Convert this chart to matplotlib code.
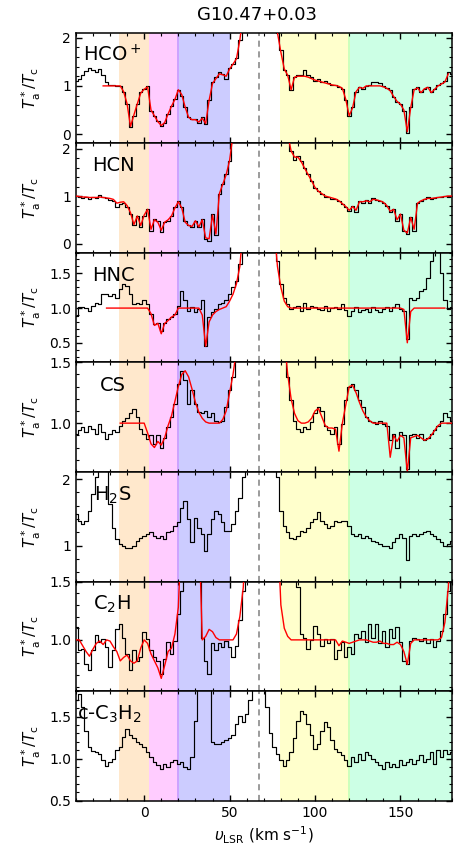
import numpy as np
import matplotlib
matplotlib.use("Agg")
import matplotlib.pyplot as plt
from matplotlib.ticker import MultipleLocator

# velocity channels (km/s) shared by all spectra
velocity = np.arange(-40, 181, 2)

# HCO+ spectrum and fit
hcop_obs = [
    1.11, 1.15, 1.22, 1.31, 1.36, 1.32, 1.29, 1.34, 1.22, 1.08,
    1.01, 1.01, 0.99, 0.99, 0.87, 0.63, 0.14, 0.38, 0.63, 0.87,
    0.94, 0.99, 0.49, 0.38, 0.28, 0.17, 0.24, 0.42, 0.59, 0.73,
    0.92, 0.80, 0.56, 0.35, 0.31, 0.31, 0.24, 0.35, 0.21, 0.70,
    1.08, 1.18, 1.29, 1.25, 1.15, 1.36, 1.46, 1.57, 1.95, 2.37,
    3.0, 3.0, 3.0, 3.0, 3.0, 3.0, 3.0, 3.0, 3.0, 2.09,
    1.74, 1.32, 1.22, 0.91, 1.18, 1.22, 1.22, 1.32, 1.22, 1.18,
    1.11, 1.15, 1.08, 1.11, 1.05, 1.01, 1.01, 0.98, 0.94, 0.70,
    0.38, 0.56, 0.87, 0.98, 0.94, 0.99, 1.01, 1.08, 1.08, 1.05,
    0.99, 0.96, 0.91, 0.77, 0.66, 0.63, 0.49, 0.03, 0.56, 0.94,
    0.98, 0.87, 0.94, 0.98, 0.87, 0.94, 1.01, 1.05, 1.11, 1.29,
    1.25,
]
hcop_fit_start = -24
hcop_fit = [
    1.00, 1.00, 1.00, 1.00, 1.00, 1.00, 0.88, 0.63, 0.16, 0.40,
    0.63, 0.85, 0.93, 0.98, 0.50, 0.38, 0.26, 0.18, 0.24, 0.42,
    0.58, 0.72, 0.92, 0.82, 0.56, 0.35, 0.30, 0.30, 0.25, 0.33,
    0.22, 0.70, 1.05, 1.15, 1.25, 1.23, 1.20, 1.35, 1.45, 1.56,
    1.95, 2.5, 3.0, 3.0, 3.0, 3.0, 3.0, 3.0, 3.0, 3.0,
    3.0, 2.10, 1.70, 1.35, 1.22, 0.92, 1.18, 1.20, 1.20, 1.20,
    1.18, 1.15, 1.12, 1.10, 1.08, 1.06, 1.04, 1.02, 1.01, 0.99,
    0.95, 0.72, 0.38, 0.55, 0.88, 0.97, 0.95, 1.00, 1.00, 1.00,
    1.00, 1.00, 0.98, 0.95, 0.90, 0.78, 0.68, 0.62, 0.50, 0.05,
    0.55, 0.92, 0.96, 0.86, 0.94, 0.97, 0.86, 0.93, 1.00, 1.04,
    1.08, 1.25,
]

# HCN
hcn_obs = [
    1.00, 0.98, 0.95, 0.97, 0.93, 0.98, 0.95, 1.02, 0.97, 0.95,
    0.91, 0.90, 0.76, 0.83, 0.86, 0.76, 0.62, 0.38, 0.59, 0.34,
    0.59, 0.72, 0.27, 0.52, 0.48, 0.24, 0.45, 0.48, 0.59, 0.76,
    0.90, 0.76, 0.48, 0.38, 0.34, 0.48, 0.34, 0.52, 0.10, 0.06,
    0.62, 0.17, 1.04, 1.25, 1.46, 1.74, 2.3, 3.0, 3.0, 3.0,
    3.0, 3.0, 3.0, 3.0, 3.0, 3.0, 3.0, 3.0, 3.0, 3.0,
    3.0, 3.0, 2.3, 1.94, 1.77, 1.84, 1.74, 1.60, 1.46, 1.32,
    1.18, 1.11, 1.04, 0.98, 0.97, 0.93, 0.93, 0.89, 0.83, 0.76,
    0.69, 0.79, 0.66, 0.90, 0.86, 0.91, 0.86, 0.95, 0.91, 0.90,
    0.86, 0.79, 0.66, 0.72, 0.48, 0.62, 0.27, 0.20, 0.55, 0.27,
    0.86, 0.90, 0.93, 0.97, 0.93, 0.95, 0.97, 0.98, 1.00, 0.98,
    1.00,
]
hcn_fit_start = -40
hcn_fit = [
    1.00, 0.99, 0.98, 0.98, 0.97, 0.97, 0.97, 0.98, 0.97, 0.96,
    0.95, 0.93, 0.85, 0.87, 0.88, 0.80, 0.65, 0.40, 0.58, 0.38,
    0.60, 0.72, 0.30, 0.50, 0.45, 0.28, 0.45, 0.50, 0.58, 0.75,
    0.88, 0.75, 0.45, 0.38, 0.36, 0.48, 0.35, 0.50, 0.12, 0.10,
    0.60, 0.20, 1.05, 1.25, 1.45, 1.75, 2.3, 3.0, 3.0, 3.0,
    3.0, 3.0, 3.0, 3.0, 3.0, 3.0, 3.0, 3.0, 3.0, 3.0,
    3.0, 3.0, 2.3, 1.95, 1.82, 1.82, 1.72, 1.58, 1.45, 1.32,
    1.18, 1.10, 1.05, 1.00, 0.98, 0.96, 0.94, 0.90, 0.84, 0.78,
    0.70, 0.78, 0.70, 0.88, 0.88, 0.90, 0.88, 0.93, 0.92, 0.90,
    0.87, 0.80, 0.68, 0.72, 0.50, 0.62, 0.28, 0.22, 0.55, 0.30,
    0.85, 0.90, 0.93, 0.95, 0.95, 0.96, 0.97, 0.98, 0.99, 1.00,
    1.00,
]

# HNC
hnc_obs = [
    0.89, 1.01, 1.02, 1.00, 0.96, 1.03, 1.08, 1.06, 1.21, 1.20,
    1.18, 1.20, 1.15, 1.27, 1.35, 1.32, 1.20, 1.06, 1.08, 1.06,
    1.11, 1.06, 0.91, 0.77, 0.79, 0.67, 0.79, 0.84, 0.87, 0.91,
    1.03, 1.25, 1.11, 0.96, 1.01, 0.94, 0.99, 1.11, 0.46, 0.87,
    0.94, 0.99, 1.06, 1.07, 1.11, 1.20, 1.30, 1.39, 1.63, 2.2,
    3.0, 3.0, 3.0, 3.0, 3.0, 3.0, 3.0, 3.0, 3.0, 1.68,
    1.35, 1.15, 1.06, 0.99, 1.01, 1.03, 0.96, 1.08, 0.99, 1.03,
    1.01, 0.99, 0.97, 1.03, 0.96, 1.00, 1.01, 0.99, 1.06, 0.97,
    0.89, 0.96, 1.01, 0.94, 0.97, 0.99, 0.95, 1.01, 0.97, 0.94,
    0.99, 1.01, 0.96, 1.01, 1.06, 0.99, 0.96, 0.55, 1.15, 1.11,
    1.15, 1.25, 1.27, 1.44, 1.68, 1.95, 1.85, 1.50, 1.11, 0.99,
    1.01,
]
hnc_fit_start = -22
hnc_fit = [
    1.00, 1.00, 1.00, 1.00, 1.00, 1.00, 1.00, 1.00, 1.00, 1.00,
    1.00, 1.00, 1.00, 0.92, 0.75, 0.78, 0.63, 0.78, 0.82, 0.87,
    0.90, 1.00, 1.00, 1.00, 1.00, 1.00, 1.00, 1.00, 0.90, 0.45,
    0.80, 0.90, 0.95, 0.98, 1.00, 1.02, 1.10, 1.20, 1.35, 1.60,
    2.2, 3.0, 3.0, 3.0, 3.0, 3.0, 3.0, 3.0, 3.0, 2.2,
    1.60, 1.30, 1.10, 1.02, 1.00, 1.00, 1.00, 1.00, 1.00, 1.00,
    1.00, 1.00, 1.00, 1.00, 1.00, 1.00, 1.00, 1.00, 1.00, 1.00,
    1.00, 1.00, 1.00, 1.00, 1.00, 1.00, 1.00, 1.00, 1.00, 1.00,
    1.00, 1.00, 1.00, 1.00, 1.00, 1.00, 1.00, 0.98, 0.50, 0.95,
    1.00, 1.00, 1.00, 1.00, 1.00, 1.00, 1.00, 1.00, 1.00, 1.00,
]

# CS
cs_obs = [
    0.91, 0.94, 0.97, 0.93, 0.98, 0.95, 0.91, 0.99, 0.93, 0.87,
    0.91, 0.94, 0.93, 0.98, 1.02, 1.04, 1.08, 1.12, 1.05, 0.95,
    0.91, 0.87, 0.90, 0.83, 0.90, 0.80, 0.88, 0.97, 1.05, 1.16,
    1.32, 1.43, 1.35, 1.16, 1.27, 1.16, 1.09, 1.08, 1.10, 1.05,
    1.08, 1.02, 1.01, 1.02, 1.13, 1.27, 1.38, 1.60, 2.0, 2.0,
    2.0, 2.0, 2.0, 2.0, 2.0, 2.0, 2.0, 2.0, 2.0, 2.0,
    2.0, 1.70, 1.38, 1.19, 1.02, 0.95, 0.93, 0.97, 0.95, 1.01,
    1.08, 1.13, 1.10, 0.98, 0.94, 0.91, 0.97, 0.83, 0.99, 1.19,
    1.30, 1.32, 1.27, 1.19, 1.13, 1.05, 1.02, 1.01, 0.99, 1.02,
    0.99, 0.98, 0.86, 0.91, 0.80, 0.93, 0.90, 0.62, 0.90, 0.91,
    0.88, 0.91, 0.86, 0.88, 0.91, 0.94, 0.98, 1.02, 1.08, 1.05,
    1.02,
]
cs_fit_start = -14
cs_fit = [
    1.00, 1.00, 1.00, 1.00, 1.00, 1.00, 1.00, 1.00, 0.92, 0.83,
    0.80, 0.85, 0.82, 0.88, 0.98, 1.06, 1.18, 1.30, 1.40, 1.43,
    1.38, 1.28, 1.17, 1.09, 1.04, 1.01, 1.00, 1.00, 1.00, 1.00,
    1.03, 1.10, 1.25, 1.40, 1.60, 2.0, 2.0, 2.0, 2.0, 2.0,
    2.0, 2.0, 2.0, 2.0, 2.0, 2.0, 2.0, 2.0, 1.70, 1.40,
    1.20, 1.08, 1.02, 1.00, 1.00, 1.01, 1.04, 1.10, 1.12, 1.05,
    0.98, 0.96, 0.96, 0.95, 0.77, 1.00, 1.15, 1.30, 1.31, 1.25,
    1.17, 1.10, 1.05, 1.02, 1.00, 1.00, 1.00, 1.00, 1.00, 0.72,
    0.90, 0.85, 0.90, 0.88, 0.60, 0.88, 0.89, 0.90, 0.88, 0.86,
    0.87, 0.90, 0.94, 0.98, 1.00, 1.00, 1.00, 1.00,
]

# H2S (no fit)
h2s_obs = [
    1.47, 1.37, 1.32, 1.37, 1.52, 1.77, 2.03, 2.5, 2.5, 2.13,
    1.62, 1.27, 1.10, 1.02, 1.00, 0.96, 0.96, 1.00, 1.07, 1.12,
    1.15, 1.18, 1.21, 1.15, 1.12, 1.15, 1.10, 1.20, 1.22, 1.30,
    1.35, 1.57, 1.67, 1.40, 1.05, 1.42, 1.27, 1.17, 0.92, 1.17,
    1.40, 1.52, 1.47, 1.35, 1.22, 1.22, 1.32, 1.52, 1.72, 2.03,
    2.5, 2.5, 2.5, 2.5, 2.5, 2.5, 2.5, 2.5, 2.5, 2.03,
    1.52, 1.30, 1.20, 1.12, 1.10, 1.15, 1.22, 1.20, 1.27, 1.35,
    1.40, 1.50, 1.37, 1.32, 1.27, 1.30, 1.37, 1.35, 1.37, 1.37,
    1.30, 1.17, 1.15, 1.17, 1.12, 1.15, 1.12, 1.07, 1.05, 1.02,
    1.00, 1.00, 0.97, 1.05, 1.12, 1.17, 1.12, 0.79, 1.15, 1.17,
    1.15, 1.18, 1.20, 1.22, 1.17, 1.15, 1.10, 1.05, 1.00, 1.02,
    1.07,
]

# C2H
c2h_obs = [
    1.11, 0.91, 0.92, 0.79, 0.74, 0.91, 1.04, 0.98, 1.01, 0.94,
    0.77, 0.91, 1.09, 1.14, 1.02, 0.88, 0.74, 0.91, 0.82, 0.85,
    1.07, 1.01, 0.91, 0.85, 0.82, 0.71, 0.84, 0.98, 0.88, 0.99,
    1.22, 1.42, 2.0, 2.0, 2.0, 2.0, 1.6, 1.02, 0.82, 0.71,
    0.97, 0.91, 0.97, 0.94, 0.99, 0.94, 0.85, 0.95, 1.17, 1.42,
    2.0, 2.0, 2.0, 2.0, 2.0, 2.0, 2.0, 2.0, 2.0, 2.0,
    2.0, 2.0, 2.0, 2.0, 2.0, 1.45, 1.05, 1.02, 0.92, 1.00,
    1.12, 1.05, 0.95, 1.01, 0.97, 1.01, 0.84, 0.91, 0.98, 0.85,
    0.94, 0.88, 1.05, 1.02, 1.08, 0.98, 1.14, 1.02, 1.14, 0.97,
    1.08, 0.94, 1.09, 1.02, 1.11, 0.98, 0.82, 0.79, 0.99, 1.02,
    1.01, 0.99, 1.02, 0.97, 1.01, 0.94, 0.99, 1.08, 1.22, 1.42,
    2.0,
]
c2h_fit_start = -40
c2h_fit = [
    1.00, 1.00, 0.95, 0.90, 0.86, 0.92, 0.97, 0.99, 0.96, 1.00,
    0.99, 0.94, 0.90, 0.82, 0.85, 0.87, 0.82, 0.80, 0.82, 0.93,
    1.00, 0.97, 0.88, 0.82, 0.76, 0.67, 0.78, 0.90, 0.93, 1.05,
    1.28, 2.0, 2.0, 2.0, 2.0, 2.0, 2.0, 1.00, 1.03, 1.09,
    1.07, 1.02, 1.00, 1.00, 1.00, 1.00, 1.00, 1.05, 1.20, 1.45,
    2.0, 2.0, 2.0, 2.0, 2.0, 2.0, 2.0, 2.0, 2.0, 2.0,
    1.30, 1.10, 1.03, 1.00, 1.00, 1.00, 1.00, 1.00, 1.00, 1.00,
    1.00, 1.00, 1.00, 1.00, 1.00, 1.00, 1.00, 0.95, 0.99, 0.98,
    0.97, 0.98, 0.99, 1.00, 1.00, 1.00, 0.99, 0.98, 0.98, 0.99,
    0.97, 0.97, 0.96, 0.96, 0.98, 0.96, 0.90, 0.79, 0.97, 1.00,
    1.00, 1.00, 1.00, 1.00, 1.00, 1.00, 1.00, 1.02, 1.15, 1.45,
    2.0,
]

# c-C3H2 (no fit)
cc3h2_obs = [
    1.69, 1.77, 1.61, 1.33, 1.14, 1.09, 1.08, 1.06, 0.98, 0.91,
    0.96, 1.00, 1.10, 1.14, 1.26, 1.35, 1.28, 1.24, 1.20, 1.18,
    1.14, 1.08, 1.02, 0.96, 0.92, 0.88, 0.94, 0.90, 0.96, 0.98,
    0.94, 0.96, 0.90, 0.88, 1.02, 1.45, 2.0, 2.0, 2.0, 2.0,
    1.20, 1.18, 1.18, 1.20, 1.22, 1.24, 1.28, 1.41, 1.51, 1.43,
    1.53, 1.69, 2.0, 2.0, 2.0, 2.0, 1.61, 1.30, 1.14, 1.06,
    0.98, 0.91, 0.98, 1.08, 1.24, 1.45, 1.57, 1.53, 1.41, 1.28,
    1.12, 1.18, 1.33, 1.43, 1.37, 1.22, 1.12, 1.08, 1.04, 0.98,
    0.91, 1.02, 0.96, 1.06, 0.98, 1.08, 1.04, 1.00, 0.96, 0.92,
    0.88, 0.96, 0.90, 0.94, 0.90, 0.98, 0.92, 0.96, 1.00, 0.94,
    0.98, 1.04, 0.96, 1.00, 1.08, 0.94, 1.10, 1.02, 1.10, 1.06,
    1.08,
]

# velocity ranges of the components (km/s)
bands = [(-14.5, 3.0, "darkorange"), (3.0, 20.5, "magenta"), (19.5, 50.5, "blue"),
         (79.6, 120.5, "yellow"), (119.5, 180.0, "springgreen")]
v_source = 67.0

panels = [
    # name, obs, fit, fit start, ylim, major, minor, label x
    ("HCO$^+$", hcop_obs, hcop_fit, hcop_fit_start, (-0.18, 2.09), 1, 0.2, 0.02),
    ("HCN", hcn_obs, hcn_fit, hcn_fit_start, (-0.19, 2.12), 1, 0.2, 0.043),
    ("HNC", hnc_obs, hnc_fit, hnc_fit_start, (0.22, 1.80), 0.5, 0.1, 0.043),
    ("CS", cs_obs, cs_fit, cs_fit_start, (0.60, 1.50), 0.5, 0.1, 0.064),
    ("H$_2$S", h2s_obs, None, None, (0.46, 2.11), 1, 0.2, 0.048),
    ("C$_2$H", c2h_obs, c2h_fit, c2h_fit_start, (0.56, 1.50), 0.5, 0.1, 0.045),
    ("c-C$_3$H$_2$", cc3h2_obs, None, None, (0.50, 1.80), 0.5, 0.1, 0.003),
]

fig, axes = plt.subplots(len(panels), 1, sharex=True, figsize=(4.54, 8.52), dpi=100)
fig.subplots_adjust(left=0.167, right=0.995, top=0.961, bottom=0.060, hspace=0)

for ax, (name, obs, fit, fit_start, ylim, major, minor, lx) in zip(axes, panels):
    for lo, hi, col in bands:
        ax.axvspan(lo, hi, color=col, alpha=0.2, lw=0, zorder=0)
    ax.axvline(v_source, color="gray", ls=(0, (4, 3)), lw=1.1, zorder=1)
    ax.plot(velocity, obs, color="black", lw=0.85, drawstyle="steps-mid", zorder=2)
    if fit is not None:
        v_fit = fit_start + 2 * np.arange(len(fit))
        ax.plot(v_fit, fit, color="red", lw=1.0, zorder=3)
    ax.set_ylim(*ylim)
    ax.set_xlim(-40, 180)
    ax.yaxis.set_major_locator(MultipleLocator(major))
    ax.yaxis.set_minor_locator(MultipleLocator(minor))
    ax.xaxis.set_major_locator(MultipleLocator(50))
    ax.xaxis.set_minor_locator(MultipleLocator(10))
    ax.tick_params(which="both", direction="in", top=True, right=True, labelsize=10)
    ax.tick_params(which="major", length=4.5, width=1)
    ax.tick_params(which="minor", length=2.5, width=0.8)
    for sp in ax.spines.values():
        sp.set_linewidth(1.1)
    ax.set_ylabel(r"$T^*_\mathrm{a}/T_\mathrm{c}$", fontsize=11)
    ax.text(lx, 0.74, name, transform=ax.transAxes, fontsize=14, va="baseline", ha="left", zorder=4)

axes[-1].set_xlabel(r"$\upsilon_\mathrm{LSR}$ (km s$^{-1}$)", fontsize=11)
fig.align_ylabels(axes)
fig.text(0.566, 0.976, "G10.47+0.03", ha="center", va="baseline", fontsize=13)

fig.savefig("out.png", dpi=100)
